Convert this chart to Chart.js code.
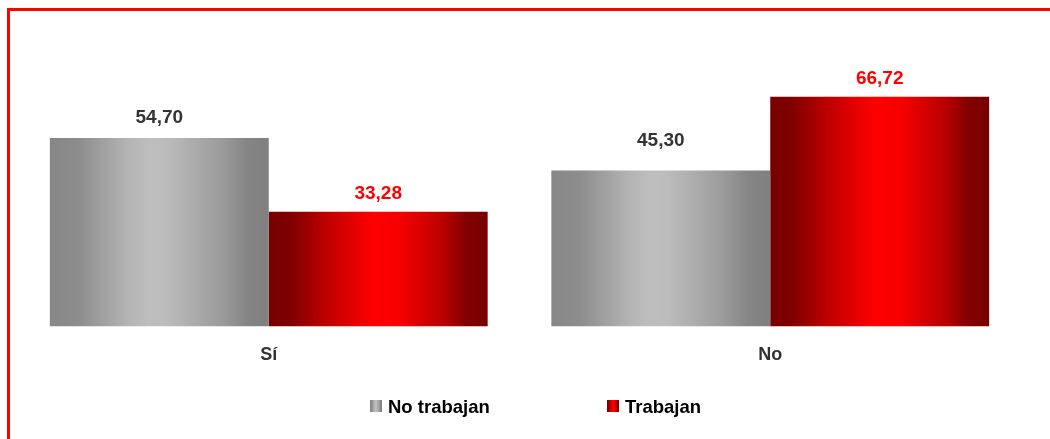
<!DOCTYPE html>
<html>
<head>
<meta charset="utf-8">
<script src="https://cdn.jsdelivr.net/npm/chart.js@4.4.1/dist/chart.umd.min.js"></script>
<style>
  html, body { margin: 0; padding: 0; background: #fff; overflow: hidden; }
  #wrap { position: relative; width: 1050px; height: 439px; }
  #frame { position: absolute; left: 7px; top: 8px; width: 2000px; height: 2000px;
           border: 3px solid #ff0000; box-sizing: border-box; pointer-events: none; }
  canvas { position: absolute; left: 0; top: 0; }
</style>
</head>
<body>
<div id="wrap">
  <canvas id="c" width="1050" height="439"></canvas>
  <div id="frame"></div>
</div>
<script>
// ---- data ----
const categories = ['Sí', 'No'];
const seriesNames = ['No trabajan', 'Trabajan'];
const noTrabajan = [54.70, 45.30];
const trabajan = [33.28, 66.72];

// ---- style ----
const CAT_PCT = 0.873;
const FONT = '"Liberation Sans", Arial, sans-serif';
const grayStops = [[0, '#878787'], [0.13, '#8d8d8d'], [0.36, '#b4b4b4'], [0.45, '#bebebe'], [0.53, '#bcbcbc'], [0.78, '#9c9c9c'], [0.9, '#858585'], [1, '#808080']];
const redStops = [[0, '#780000'], [0.1, '#800000'], [0.28, '#c40000'], [0.48, '#ff0000'], [0.6, '#f60000'], [0.8, '#b80000'], [0.9, '#840000'], [1, '#780000']];
const labelColors = ['#333333', '#ff0000'];
const labelGaps = [[15, 24], [13, 13]];

function barGradient(context, stops) {
  const chart = context.chart;
  const xs = chart.scales.x;
  if (!xs || !chart.chartArea) return stops[4][1];
  const n = chart.data.labels.length;
  const groupW = (xs.width / n) * CAT_PCT;
  const nd = chart.data.datasets.length;
  const bw = groupW / nd;
  const center = xs.getPixelForTick(context.dataIndex);
  const left = center - groupW / 2 + context.datasetIndex * bw;
  const g = chart.ctx.createLinearGradient(left, 0, left + bw, 0);
  stops.forEach(s => g.addColorStop(s[0], s[1]));
  return g;
}

function fmt(v) { return v.toFixed(2).replace('.', ','); }

const valueLabels = {
  id: 'valueLabels',
  afterDatasetsDraw(chart) {
    const ctx = chart.ctx;
    ctx.save();
    ctx.font = 'bold 19px ' + FONT;
    ctx.textAlign = 'center';
    ctx.textBaseline = 'alphabetic';
    chart.data.datasets.forEach((ds, di) => {
      const meta = chart.getDatasetMeta(di);
      meta.data.forEach((bar, i) => {
        ctx.fillStyle = labelColors[di];
        ctx.fillText(fmt(ds.data[i]), bar.x, bar.y - labelGaps[di][i]);
      });
    });
    ctx.restore();
  }
};

function legendSwatch(stops) {
  const c = document.createElement('canvas');
  c.width = 12; c.height = 12;
  const x = c.getContext('2d');
  const g = x.createLinearGradient(0, 0, 12, 0);
  stops.forEach(s => g.addColorStop(s[0], s[1]));
  x.fillStyle = g; x.fillRect(0, 0, 12, 12);
  return c;
}

const customLegend = {
  id: 'customLegend',
  afterDraw(chart) {
    const ctx = chart.ctx;
    const items = [
      { text: seriesNames[0], stops: grayStops, x: 370 },
      { text: seriesNames[1], stops: redStops, x: 607 }
    ];
    ctx.save();
    ctx.font = 'bold 18.5px ' + FONT;
    ctx.fillStyle = '#000000';
    ctx.textBaseline = 'alphabetic';
    ctx.textAlign = 'left';
    items.forEach(it => {
      ctx.drawImage(legendSwatch(it.stops), it.x, 400);
      ctx.fillText(it.text, it.x + 18, 413);
    });
    ctx.restore();
  }
};

new Chart(document.getElementById('c'), {
  type: 'bar',
  data: {
    labels: categories,
    datasets: [
      { label: seriesNames[0], data: noTrabajan, backgroundColor: ctx => barGradient(ctx, grayStops) },
      { label: seriesNames[1], data: trabajan, backgroundColor: ctx => barGradient(ctx, redStops) }
    ]
  },
  options: {
    responsive: false,
    animation: false,
    events: [],
    layout: { padding: { left: 18, right: 29, top: 51, bottom: 55 } },
    datasets: { bar: { categoryPercentage: CAT_PCT, barPercentage: 1.0, borderWidth: 0 } },
    plugins: { legend: { display: false }, tooltip: { enabled: false } },
    scales: {
      x: {
        grid: { display: false, drawTicks: false },
        border: { display: false },
        ticks: { color: '#333333', font: { family: FONT, size: 18, weight: 'bold' }, padding: 18 }
      },
      y: {
        display: false,
        min: 0, max: 80
      }
    }
  },
  plugins: [valueLabels, customLegend]
});
</script>
</body>
</html>
